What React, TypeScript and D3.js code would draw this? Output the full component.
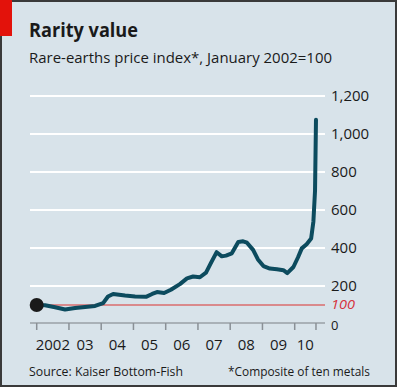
import React from "react";
import * as d3 from "d3";

const dates: number[] = [
  2002.0, 2002.26, 2002.57, 2002.88, 2003.19, 2003.5, 2003.81, 2004.06, 2004.21, 2004.37,
  2004.74, 2005.05, 2005.39, 2005.58, 2005.73, 2005.95, 2006.16, 2006.44, 2006.66, 2006.85,
  2007.06, 2007.25, 2007.4, 2007.58, 2007.74, 2007.87, 2008.05, 2008.25, 2008.4, 2008.52,
  2008.71, 2008.86, 2009.03, 2009.23, 2009.45, 2009.65, 2009.77, 2009.96, 2010.1, 2010.22,
  2010.37, 2010.51, 2010.58, 2010.63, 2010.66,
];
const values: number[] = [
  100, 99, 88, 76, 84, 90, 95, 110, 145, 158,
  150, 145, 143, 158, 168, 163, 180, 210, 240, 250,
  246, 270, 320, 378, 356, 360, 372, 432, 435, 428,
  390, 340, 305, 292, 288, 283, 268, 300, 350, 398,
  420, 450, 540, 700, 1075,
];
const yTicks: number[] = [0, 200, 400, 600, 800, 1000, 1200];
const yTickLabels: string[] = ["0", "200", "400", "600", "800", "1,000", "1,200"];
const xTickYears: number[] = [2002, 2003, 2004, 2005, 2006, 2007, 2008, 2009, 2010, 2010.66];
const xLabels: string[] = ["2002", "03", "04", "05", "06", "07", "08", "09", "10"];
const refValue = 100;

const FONT = "'Open Sans', 'DejaVu Sans', sans-serif";

export default function App() {
  const W = 400;
  const H = 387;
  const x = d3.scaleLinear().domain([2002, 2011]).range([36.7, 326.95]);
  const y = d3.scaleLinear().domain([0, 1200]).range([324, 96]);
  const gridL = 30;
  const gridR = 325;
  const data = dates.map((d, i) => [d, values[i]] as [number, number]);
  const line = d3
    .line<[number, number]>()
    .x((d) => x(d[0]))
    .y((d) => y(d[1]))
    .curve(d3.curveLinear);

  return (
    <svg
      width={W}
      height={H}
      style={{ position: "absolute", left: 0, top: 0, display: "block" }}
    >
      <rect x={0} y={0} width={W} height={H} fill="#ffffff" />
      <rect x={1} y={1} width={395} height={385} fill="#d8e3ea" stroke="#3a3a3a" strokeWidth={2} />
      <rect x={0} y={0} width={12} height={36} fill="#e3120b" />

      <text x={29} y={37} fontFamily={FONT} fontWeight={700} fontSize={20} fill="#1a1a1a"
        textLength={109} lengthAdjust="spacingAndGlyphs">Rarity value</text>
      <text x={29} y={63} fontFamily={FONT} fontSize={15} fill="#1a1a1a"
        textLength={303} lengthAdjust="spacingAndGlyphs">Rare-earths price index*, January 2002=100</text>

      {yTicks.filter((t) => t > 0).map((t) => (
        <line key={t} x1={gridL} x2={gridR} y1={y(t)} y2={y(t)} stroke="#ffffff" strokeWidth={2} />
      ))}
      <line x1={gridL} x2={gridR} y1={y(refValue)} y2={y(refValue)} stroke="#d98a8c" strokeWidth={2} />

      <line x1={gridL} x2={gridR} y1={y(0) - 1} y2={y(0) - 1} stroke="#9aa0a6" strokeWidth={1.5} />
      {xTickYears.map((t) => (
        <line key={t} x1={x(t)} x2={x(t)} y1={y(0) - 1} y2={y(0) + 6} stroke="#8a9096" strokeWidth={1.5} />
      ))}

      {yTicks.map((t, i) => (
        <text key={t} x={331} y={t === 0 ? y(t) + 1 : y(t)} dy="0.35em" fontFamily={FONT}
          fontSize={t === 0 ? 13 : 15} fill="#1a1a1a">
          {yTickLabels[i]}
        </text>
      ))}
      <text x={331} y={y(refValue) - 1} dy="0.35em" fontFamily={FONT} fontSize={13} fontStyle="italic" fill="#d6313a"
        textLength={24} lengthAdjust="spacingAndGlyphs">
        100
      </text>

      {xLabels.map((lab, i) => (
        <text key={lab} x={(x(xTickYears[i]) + x(xTickYears[i + 1])) / 2} y={350}
          textAnchor="middle" fontFamily={FONT} fontSize={15} fill="#1a1a1a">
          {lab}
        </text>
      ))}

      <path d={line(data) || ""} fill="none" stroke="#0c4b5e" strokeWidth={4} strokeLinejoin="round" strokeLinecap="round" />
      <circle cx={x(dates[0])} cy={y(values[0])} r={7} fill="#1a1a1a" />

      <text x={29} y={376} fontFamily={FONT} fontSize={13} fill="#1a1a1a"
        textLength={154} lengthAdjust="spacingAndGlyphs">Source: Kaiser Bottom-Fish</text>
      <text x={228} y={376} fontFamily={FONT} fontSize={13} fill="#1a1a1a"
        textLength={142} lengthAdjust="spacingAndGlyphs">*Composite of ten metals</text>
    </svg>
  );
}
